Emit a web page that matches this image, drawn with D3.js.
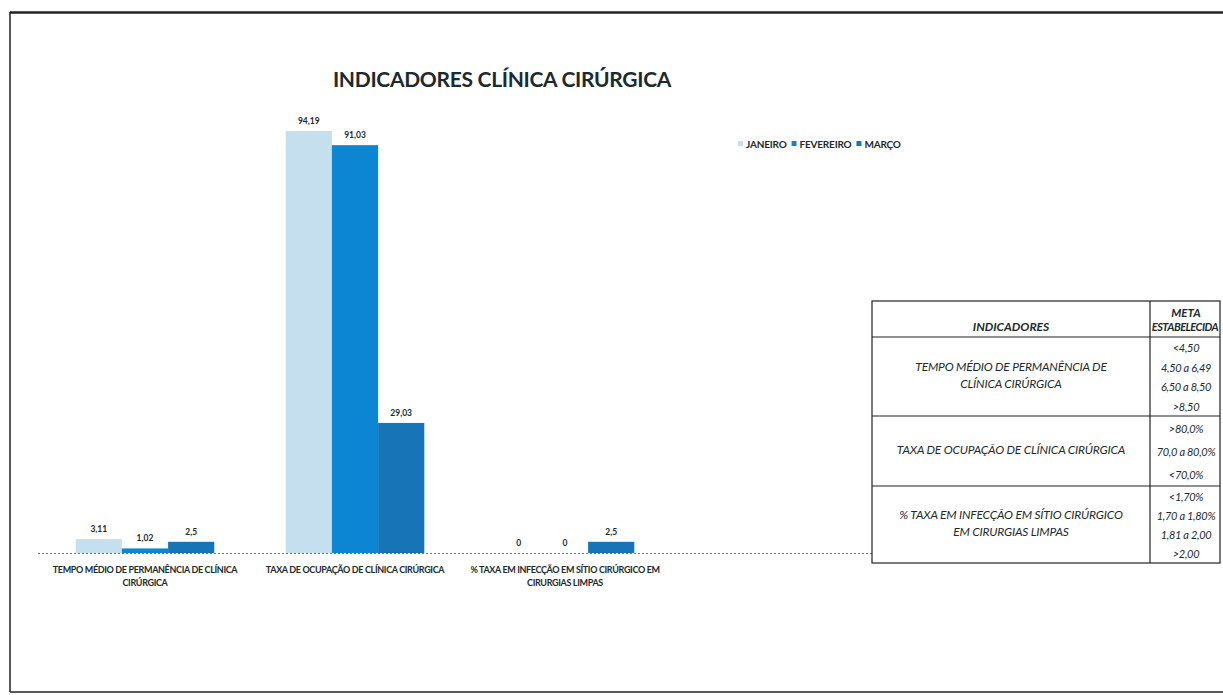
<!DOCTYPE html>
<html><head><meta charset="utf-8">
<script src="https://cdn.jsdelivr.net/npm/d3@7"></script>
<style>body{margin:0;background:#fff}</style>
</head><body>
<svg id="c" width="1223" height="695"></svg>
<script>
const categories = [
  ["TEMPO MÉDIO DE PERMANÊNCIA DE CLÍNICA", "CIRÚRGICA"],
  ["TAXA DE OCUPAÇÃO DE CLÍNICA CIRÚRGICA"],
  ["% TAXA EM INFECÇÃO EM SÍTIO CIRÚRGICO EM", "CIRURGIAS LIMPAS"]
];
const seriesNames = ["JANEIRO", "FEVEREIRO", "MARÇO"];
const janeiro = [3.11, 94.19, 0];
const fevereiro = [1.02, 91.03, 0];
const marco = [2.5, 29.03, 2.5];
const labelsJan = ["3,11", "94,19", "0"];
const labelsFev = ["1,02", "91,03", "0"];
const labelsMar = ["2,5", "29,03", "2,5"];
const colors = ["#c6dfef", "#0c86d2", "#1674b7"];

const tableRows = [
  {ind: ["TEMPO MÉDIO DE PERMANÊNCIA DE", "CLÍNICA CIRÚRGICA"], meta: ["<4,50", "4,50 a 6,49", "6,50 a 8,50", ">8,50"]},
  {ind: ["TAXA DE OCUPAÇÃO DE CLÍNICA CIRÚRGICA"], meta: [">80,0%", "70,0 a 80,0%", "<70,0%"]},
  {ind: ["% TAXA EM INFECÇÃO EM SÍTIO CIRÚRGICO", "EM CIRURGIAS LIMPAS"], meta: ["<1,70%", "1,70 a 1,80%", "1,81 a 2,00", ">2,00"]}
];

const svg = d3.select("#c");
const font = "Lato, 'Open Sans', 'Liberation Sans', sans-serif";

// outer frame
svg.append("line").attr("x1",10).attr("y1",12.5).attr("x2",1223).attr("y2",12.5).attr("stroke","#222").attr("stroke-width",2.5);
svg.append("line").attr("x1",10).attr("y1",12).attr("x2",10).attr("y2",692).attr("stroke","#222").attr("stroke-width",1.5);
svg.append("line").attr("x1",10).attr("y1",692).attr("x2",1223).attr("y2",692).attr("stroke","#222").attr("stroke-width",1.5);

// title
svg.append("text").attr("x",502).attr("y",87).attr("text-anchor","middle")
  .attr("font-family",font).attr("font-weight","bold").attr("font-size",21).attr("fill","#1b2a2e")
  .attr("letter-spacing",-0.3)
  .text("INDICADORES CLÍNICA CIRÚRGICA");

const baseY = 553;
const x0 = d3.scaleBand().domain(d3.range(categories.length)).range([40, 670]).paddingInner(0.34).paddingOuter(0.17);
const x1 = d3.scaleBand().domain(d3.range(3)).range([0, x0.bandwidth()]);
const y = d3.scaleLinear().domain([0, 94.19]).range([baseY, 131]);

const series = [janeiro, fevereiro, marco];
const labels = [labelsJan, labelsFev, labelsMar];

// baseline
svg.append("line").attr("x1",38).attr("x2",872).attr("y1",baseY+0.5).attr("y2",baseY+0.5)
  .attr("stroke","#5a7a95").attr("stroke-width",1).attr("stroke-dasharray","2,2");

series.forEach((s, si) => {
  const g = svg.append("g");
  g.selectAll("rect").data(s).join("rect")
    .attr("x", (d,i) => x0(i) + x1(si))
    .attr("width", x1.bandwidth())
    .attr("y", d => y(d))
    .attr("height", d => baseY - y(d))
    .attr("fill", colors[si]);
  g.selectAll("text").data(s).join("text")
    .attr("x", (d,i) => x0(i) + x1(si) + x1.bandwidth()/2)
    .attr("y", d => y(d) - 7)
    .attr("text-anchor","middle").attr("font-family",font).attr("font-weight","bold")
    .attr("font-size",8.5).attr("fill","#1b2a2e")
    .text((d,i) => labels[si][i]);
});

// category labels
categories.forEach((lines, i) => {
  lines.forEach((ln, j) => {
    svg.append("text").attr("x", x0(i) + x0.bandwidth()/2).attr("y", 573 + j*13)
      .attr("text-anchor","middle").attr("font-family",font).attr("font-weight","bold")
      .attr("font-size",9).attr("letter-spacing",-0.35).attr("fill","#1b2a2e").text(ln);
  });
});

// legend
let lx = 738;
seriesNames.forEach((n, i) => {
  svg.append("rect").attr("x", lx).attr("y", 141).attr("width",5).attr("height",5).attr("fill",colors[i]);
  const t = svg.append("text").attr("x", lx+8).attr("y", 147.5).attr("font-family",font).attr("font-weight","bold")
    .attr("font-size",10).attr("letter-spacing",-0.2).attr("fill","#1b2a2e").text(n);
  lx += 8 + t.node().getComputedTextLength() + 5;
});

// table
const tL = 872, tR = 1220, tD = 1150, tT = 301, tB = 563;
const rowBounds = [337, 416, 486, 563];
const tg = svg.append("g").attr("font-family",font).attr("font-style","italic").attr("fill","#1b2a2e");
tg.append("rect").attr("x",tL).attr("y",tT).attr("width",tR-tL).attr("height",tB-tT).attr("fill","none").attr("stroke","#222").attr("stroke-width",1.2);
tg.append("line").attr("x1",tD).attr("x2",tD).attr("y1",tT).attr("y2",tB).attr("stroke","#222").attr("stroke-width",1.2);
rowBounds.slice(0,3).forEach(yy => {
  tg.append("line").attr("x1",tL).attr("x2",tR).attr("y1",yy).attr("y2",yy).attr("stroke","#222").attr("stroke-width",1.2);
});
tg.append("text").attr("x",(tL+tD)/2).attr("y",331).attr("text-anchor","middle").attr("font-weight","bold").attr("font-size",12).text("INDICADORES");
tg.append("text").attr("x",(tD+tR)/2 + 1).attr("y",317).attr("text-anchor","middle").attr("font-weight","bold").attr("font-size",11.5).text("META");
tg.append("text").attr("x",(tD+tR)/2).attr("y",331).attr("text-anchor","middle").attr("font-weight","bold").attr("font-size",11).attr("letter-spacing",-0.5).text("ESTABELECIDA");

let rowTop = 337;
tableRows.forEach((r, ri) => {
  const bot = rowBounds[ri+1];
  const h = bot - rowTop;
  const mid = (rowTop + bot)/2;
  r.ind.forEach((ln, j) => {
    tg.append("text").attr("x",(tL+tD)/2).attr("y", mid - (r.ind.length-1)*8.5 + j*17 + 3)
      .attr("text-anchor","middle").attr("font-size",12).attr("letter-spacing",-0.2).text(ln);
  });
  const step = h / r.meta.length;
  r.meta.forEach((m, j) => {
    tg.append("text").attr("x", (tD+tR)/2 + 1).attr("y", rowTop + step*(j+0.5) + 5)
      .attr("text-anchor","middle").attr("font-size",11).attr("letter-spacing",-0.3).text(m);
  });
  rowTop = bot;
});
</script>
</body></html>
